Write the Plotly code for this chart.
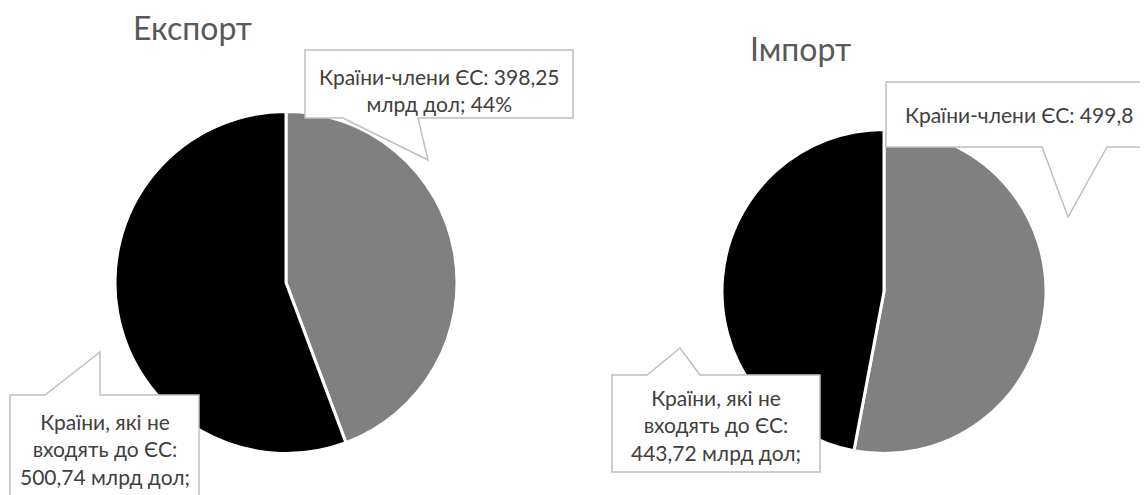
import plotly.graph_objects as go

# ---- data ----
categories = ["Країни-члени ЄС", "Країни, які не входять до ЄС"]
export_values = [398.25, 500.74]
import_values = [499.8, 443.72]
titles = ["Експорт", "Імпорт"]
colors = ["#808080", "#000000"]

# page is 1148x495; the page body has an 8px margin, so the figure is 1140x487
OFF = 8
W, H = 1148 - OFF, 495 - OFF


def px(x):
    return (x - OFF) / W


def py(y):
    return 1 - (y - OFF) / H


def fmt(v):
    s = f"{v:.2f}".rstrip("0").rstrip(".")
    return s.replace(".", ",")


def pct(vals, i):
    return f"{round(100 * vals[i] / sum(vals))}%"


fig = go.Figure()

# Export pie: centre (286, 282.5), r 171
fig.add_trace(go.Pie(
    labels=categories, values=export_values, sort=False, direction="clockwise",
    marker=dict(colors=colors, line=dict(color="white", width=3)),
    textinfo="none", hoverinfo="label+value+percent", showlegend=False,
    domain=dict(x=[px(286 - 171), px(286 + 171)], y=[py(282.5 + 171), py(282.5 - 171)]),
))
# Import pie: centre (884, 291.5), r 162
fig.add_trace(go.Pie(
    labels=categories, values=import_values, sort=False, direction="clockwise",
    marker=dict(colors=colors, line=dict(color="white", width=3)),
    textinfo="none", hoverinfo="label+value+percent", showlegend=False,
    domain=dict(x=[px(884 - 162), px(884 + 162)], y=[py(291.5 + 162), py(291.5 - 162)]),
))


def callout(points):
    d = "M " + " L ".join(f"{px(x)},{py(y)}" for x, y in points) + " Z"
    fig.add_shape(type="path", path=d, xref="paper", yref="paper",
                  fillcolor="white", line=dict(color="#bfbfbf", width=1.5), layer="above")


callout([(305, 50), (573, 50), (573, 118), (418, 118), (428, 160), (343, 118), (305, 118)])
callout([(10, 395), (45, 395), (100, 352), (100, 395), (199, 395), (199, 510), (10, 510)])
callout([(886, 82), (1165, 82), (1165, 147), (1107, 147), (1068, 217), (1042, 147), (886, 147)])
callout([(612, 375), (647, 375), (680, 348), (700, 375), (820, 375), (820, 472), (612, 472)])

lab_font = dict(family="Lato, 'Open Sans', sans-serif", size=21, color="#404040")
ttl_font = dict(family="Lato, 'Open Sans', sans-serif", size=32, color="#595959")


def note(text, x, y, font):
    fig.add_annotation(text=text, x=px(x), y=py(y), xref="paper", yref="paper",
                       showarrow=False, xanchor="center", yanchor="middle",
                       font=font, align="center")


note(f"{categories[0]}: {fmt(export_values[0])}<br>млрд дол; {pct(export_values, 0)}", 439, 90, lab_font)
note(f"Країни, які не<br>входять до ЄС:<br>{fmt(export_values[1])} млрд дол;", 105, 449, lab_font)
note(f"{categories[0]}: {fmt(import_values[0])}", 1019, 115, lab_font)
note(f"Країни, які не<br>входять до ЄС:<br>{fmt(import_values[1])} млрд дол;", 716, 425, lab_font)

note(titles[0], 192, 28, ttl_font)
note(titles[1], 800, 49, ttl_font)

fig.update_layout(
    width=W, height=H, margin=dict(l=0, r=0, t=0, b=0),
    paper_bgcolor="white", plot_bgcolor="white",
)

fig.write_html("out.html")
